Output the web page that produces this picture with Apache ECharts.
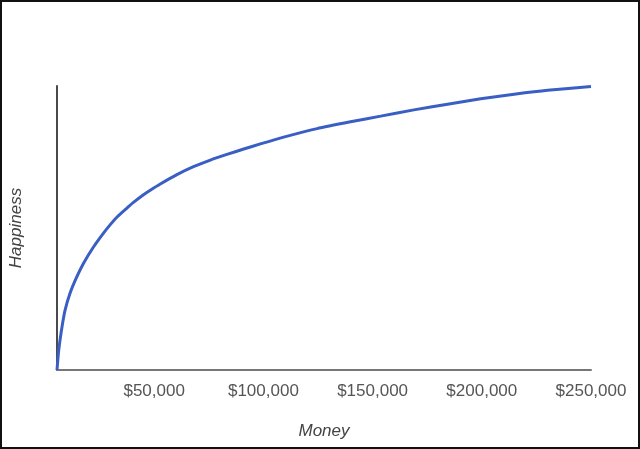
<!DOCTYPE html>
<html>
<head>
<meta charset="utf-8">
<script src="https://cdn.jsdelivr.net/npm/echarts@6/dist/echarts.min.js"></script>
<style>
  html, body { margin: 0; padding: 0; background: #fff; }
  #wrap { width: 640px; height: 449px; box-sizing: border-box; border: 2px solid #111; position: relative; overflow: hidden; }
  #chart { position: absolute; left: -2px; top: -2px; width: 640px; height: 449px; }
</style>
</head>
<body>
<div id="wrap"><div id="chart"></div></div>
<script>
// Money (x) values
var money = [5500, 6200, 6900, 8000, 9200, 11500, 14500, 17600, 22200, 26700, 29800, 32900, 37500, 40500, 45100, 48200, 52800, 60400, 68000, 75700, 83300, 91000, 98600, 109300, 124600, 139900, 153700, 168900, 184300, 199500, 214800, 230100, 250000];
// Happiness (y) values, relative scale 0-100
var happiness = [0, 6.3, 10.6, 16.2, 21.1, 27.1, 32.7, 37.5, 43.3, 48.1, 51.1, 53.8, 57.0, 59.0, 61.7, 63.3, 65.5, 68.8, 71.6, 73.9, 75.9, 77.8, 79.6, 82.0, 85.0, 87.4, 89.4, 91.6, 93.6, 95.5, 97.1, 98.5, 99.8];
// Tick labels on the money axis
var tickValues = [50000, 100000, 150000, 200000, 250000];

var points = money.map(function (m, i) { return [m, happiness[i]]; });

function fmtMoney(v) {
  return '$' + String(v).replace(/\B(?=(\d{3})+(?!\d))/g, ',');
}

var chart = echarts.init(document.getElementById('chart'), null, { renderer: 'canvas' });
chart.setOption({
  animation: false,
  backgroundColor: 'transparent',
  grid: { left: 57, right: 49, top: 86, bottom: 79 },
  xAxis: {
    type: 'value',
    min: 5500,
    max: 250000,
    name: 'Money',
    nameLocation: 'middle',
    nameGap: 53,
    nameTextStyle: { fontFamily: 'Liberation Sans', fontStyle: 'italic', fontSize: 17, color: '#444' },
    axisLine: { show: true, lineStyle: { color: '#777', width: 2 } },
    axisTick: { show: false },
    splitLine: { show: false },
    axisLabel: {
      customValues: tickValues,
      formatter: function (v) { return fmtMoney(v); },
      fontFamily: 'Liberation Sans',
      fontSize: 17,
      color: '#555',
      margin: 13,
      showMinLabel: true,
      showMaxLabel: true
    }
  },
  yAxis: {
    type: 'value',
    min: 0,
    max: 100,
    name: 'Happiness',
    nameLocation: 'middle',
    nameGap: 32,
    nameTextStyle: { fontFamily: 'Liberation Sans', fontStyle: 'italic', fontSize: 17, color: '#444' },
    axisLine: { show: true, lineStyle: { color: '#4a4a4a', width: 2 } },
    axisTick: { show: false },
    axisLabel: { show: false },
    splitLine: { show: false }
  },
  series: [{
    type: 'line',
    data: points,
    showSymbol: false,
    smooth: 0.2,
    lineStyle: { color: '#3a5fc4', width: 3 },
    z: 3
  }]
});
</script>
</body>
</html>
